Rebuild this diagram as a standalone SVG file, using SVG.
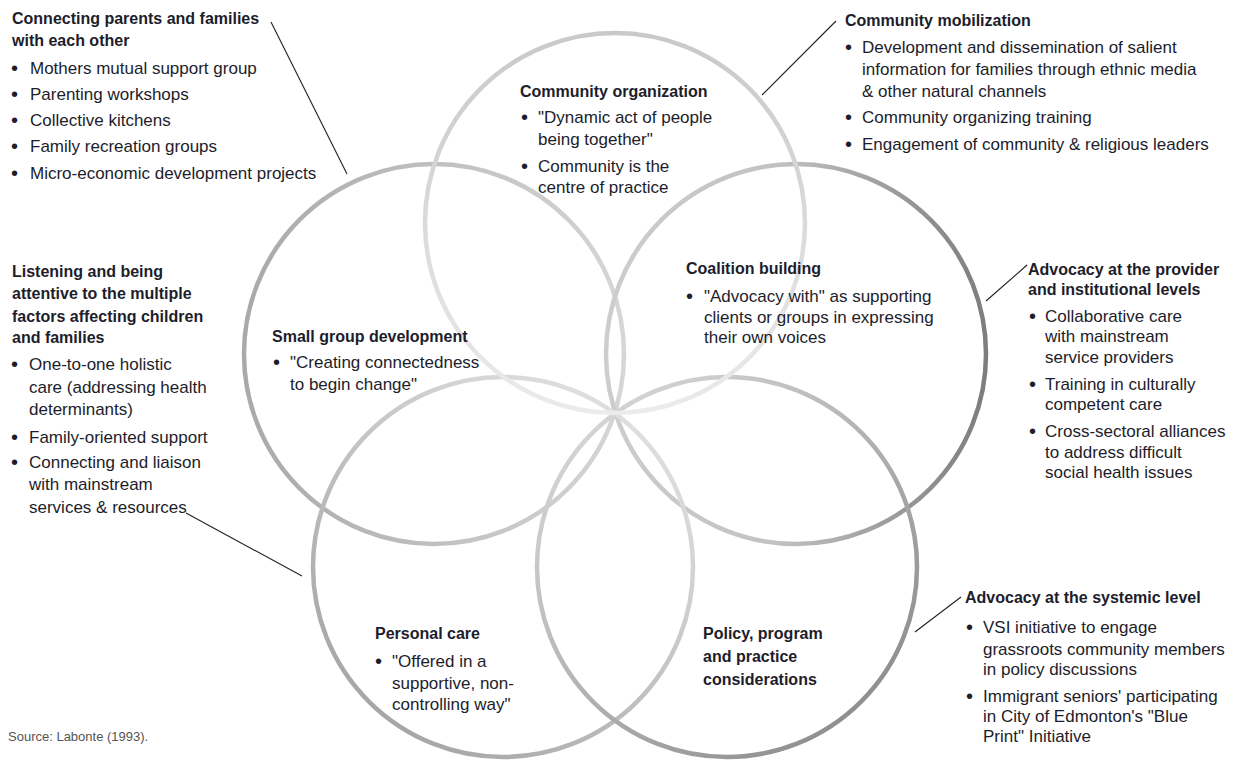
<svg xmlns="http://www.w3.org/2000/svg" width="1233" height="761" viewBox="0 0 1233 761">
<defs>
<linearGradient id="gTop" x1="0" y1="0" x2="0" y2="1">
<stop offset="0" stop-color="#c9c9c9"/><stop offset="1" stop-color="#ebebeb"/>
</linearGradient>
<linearGradient id="gLeft" x1="0" y1="0.5" x2="1" y2="0.5">
<stop offset="0" stop-color="#a9a9a9"/><stop offset="1" stop-color="#d6d6d6"/>
</linearGradient>
<linearGradient id="gRight" x1="0" y1="0.5" x2="1" y2="0.5">
<stop offset="0" stop-color="#cdcdcd"/><stop offset="0.45" stop-color="#c2c2c2"/><stop offset="1" stop-color="#7d7d7d"/>
</linearGradient>
<linearGradient id="gBL" x1="0" y1="1" x2="0.8" y2="0">
<stop offset="0" stop-color="#9c9c9c"/><stop offset="1" stop-color="#e2e2e2"/>
</linearGradient>
<linearGradient id="gBR" x1="0.1" y1="0" x2="1" y2="1">
<stop offset="0" stop-color="#dcdcdc"/><stop offset="1" stop-color="#828282"/>
</linearGradient>
</defs>
<style>
text{font-family:"Liberation Sans",Arial,sans-serif;font-size:17px;fill:#1d1d2b}
.h{font-weight:bold;font-size:16px}
.b{font-size:20px}
.ring{fill:none;stroke-width:4.5}
.conn{stroke:#222;stroke-width:1.1;fill:none}
.src{font-size:13px;fill:#555}
</style>
<rect width="1233" height="761" fill="#fff"/>

<g id="circles">
<g id="node-small-group"><circle class="ring" cx="434" cy="354" r="190" stroke="url(#gLeft)"/></g>
<g id="node-coalition"><circle class="ring" cx="796" cy="354" r="190" stroke="url(#gRight)"/></g>
<g id="node-personal-care"><circle class="ring" cx="503" cy="567" r="190" stroke="url(#gBL)"/></g>
<g id="node-policy"><circle class="ring" cx="727" cy="567" r="190" stroke="url(#gBR)"/></g>
<g id="node-community-organization"><circle class="ring" cx="615" cy="223" r="190" stroke="url(#gTop)"/></g>
</g>

<g id="connectors">
<line class="conn" x1="271" y1="22" x2="347" y2="174"/>
<line class="conn" x1="762" y1="95" x2="836" y2="21"/>
<line class="conn" x1="186" y1="513" x2="302" y2="576"/>
<line class="conn" x1="986" y1="301" x2="1027" y2="265"/>
<line class="conn" x1="915" y1="632" x2="961" y2="597"/>
</g>

<g id="label-community-organization">
<text class="h" x="520" y="97">Community organization</text>
<text class="b" x="521" y="124">•</text><text x="538" y="123">"Dynamic act of people</text>
<text x="538" y="145">being together"</text>
<text class="b" x="521" y="173">•</text><text x="538" y="172">Community is the</text>
<text x="538" y="193">centre of practice</text>
</g>

<g id="label-small-group">
<text class="h" x="272" y="342">Small group development</text>
<text class="b" x="273" y="369">•</text><text x="290" y="368">"Creating connectedness</text>
<text x="290" y="390">to begin change"</text>
</g>

<g id="label-coalition">
<text class="h" x="686" y="274">Coalition building</text>
<text class="b" x="686" y="303">•</text><text x="704" y="302">"Advocacy with" as supporting</text>
<text x="704" y="323">clients or groups in expressing</text>
<text x="704" y="343">their own voices</text>
</g>

<g id="label-personal-care">
<text class="h" x="375" y="639">Personal care</text>
<text class="b" x="375" y="668">•</text><text x="392" y="667">"Offered in a</text>
<text x="392" y="689">supportive, non-</text>
<text x="392" y="710">controlling way"</text>
</g>

<g id="label-policy">
<text class="h" x="703" y="639">Policy, program</text>
<text class="h" x="703" y="662">and practice</text>
<text class="h" x="703" y="685">considerations</text>
</g>

<g id="note-connecting-parents">
<text class="h" x="12" y="24">Connecting parents and families</text>
<text class="h" x="12" y="46">with each other</text>
<text class="b" x="11" y="75">•</text><text x="30" y="74">Mothers mutual support group</text>
<text class="b" x="11" y="101">•</text><text x="30" y="100">Parenting workshops</text>
<text class="b" x="11" y="127">•</text><text x="30" y="126">Collective kitchens</text>
<text class="b" x="11" y="153">•</text><text x="30" y="152">Family recreation groups</text>
<text class="b" x="11" y="180">•</text><text x="30" y="179">Micro-economic development projects</text>
</g>

<g id="note-community-mobilization">
<text class="h" x="845" y="26">Community mobilization</text>
<text class="b" x="845" y="54">•</text><text x="862" y="53">Development and dissemination of salient</text>
<text x="862" y="75">information for families through ethnic media</text>
<text x="862" y="97">&amp; other natural channels</text>
<text class="b" x="845" y="124">•</text><text x="862" y="123">Community organizing training</text>
<text class="b" x="845" y="151">•</text><text x="862" y="150">Engagement of community &amp; religious leaders</text>
</g>

<g id="note-listening">
<text class="h" x="12" y="277">Listening and being</text>
<text class="h" x="12" y="299">attentive to the multiple</text>
<text class="h" x="12" y="322">factors affecting children</text>
<text class="h" x="12" y="343">and families</text>
<text class="b" x="11" y="371">•</text><text x="29" y="370">One-to-one holistic</text>
<text x="29" y="393">care (addressing health</text>
<text x="29" y="415">determinants)</text>
<text class="b" x="11" y="444">•</text><text x="29" y="443">Family-oriented support</text>
<text class="b" x="11" y="469">•</text><text x="29" y="468">Connecting and liaison</text>
<text x="29" y="490">with mainstream</text>
<text x="29" y="513">services &amp; resources</text>
</g>

<g id="note-advocacy-provider">
<text class="h" x="1028" y="275">Advocacy at the provider</text>
<text class="h" x="1028" y="295">and institutional levels</text>
<text class="b" x="1029" y="323">•</text><text x="1045" y="322">Collaborative care</text>
<text x="1045" y="342">with mainstream</text>
<text x="1045" y="363">service providers</text>
<text class="b" x="1029" y="391">•</text><text x="1045" y="390">Training in culturally</text>
<text x="1045" y="410">competent care</text>
<text class="b" x="1029" y="438">•</text><text x="1045" y="437">Cross-sectoral alliances</text>
<text x="1045" y="458">to address difficult</text>
<text x="1045" y="478">social health issues</text>
</g>

<g id="note-advocacy-systemic">
<text class="h" x="965" y="603">Advocacy at the systemic level</text>
<text class="b" x="966" y="634">•</text><text x="983" y="633">VSI initiative to engage</text>
<text x="983" y="655">grassroots community members</text>
<text x="983" y="675">in policy discussions</text>
<text class="b" x="966" y="703">•</text><text x="983" y="702">Immigrant seniors' participating</text>
<text x="983" y="722">in City of Edmonton's "Blue</text>
<text x="983" y="742">Print" Initiative</text>
</g>

<text class="src" x="8" y="741">Source: Labonte (1993).</text>
</svg>
